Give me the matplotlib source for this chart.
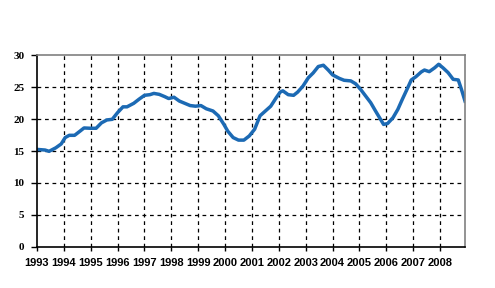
import matplotlib
matplotlib.use("Agg")
import matplotlib.pyplot as plt

# values (decimal year, value)
years = [1993.0, 1993.3, 1993.45, 1993.7, 1993.9, 1994.05, 1994.2, 1994.4, 1994.6, 1994.75,
         1995.0, 1995.2, 1995.4, 1995.6, 1995.8, 1996.0, 1996.2, 1996.35, 1996.6, 1996.8,
         1997.0, 1997.2, 1997.35, 1997.55, 1997.75, 1997.9, 1998.1, 1998.3, 1998.5, 1998.7,
         1998.9, 1999.1, 1999.3, 1999.55, 1999.75, 1999.95, 2000.1, 2000.3, 2000.5, 2000.7,
         2000.9, 2001.1, 2001.3, 2001.5, 2001.7, 2001.9, 2002.05, 2002.15, 2002.35, 2002.55,
         2002.7, 2002.9, 2003.1, 2003.28, 2003.47, 2003.66, 2003.84, 2004.0, 2004.25, 2004.43,
         2004.68, 2004.86, 2005.05, 2005.23, 2005.42, 2005.6, 2005.75, 2005.9, 2006.05, 2006.25,
         2006.43, 2006.6, 2006.8, 2006.93, 2007.1, 2007.3, 2007.42, 2007.6, 2007.8, 2007.95,
         2008.11, 2008.3, 2008.49, 2008.68, 2008.8, 2008.93]
values = [15.25, 15.15, 14.95, 15.5, 16.1, 17.1, 17.45, 17.45, 18.1, 18.6,
          18.55, 18.55, 19.4, 19.85, 19.95, 21.0, 21.9, 21.9, 22.45, 23.1,
          23.7, 23.8, 24.0, 23.85, 23.5, 23.2, 23.4, 22.8, 22.45, 22.1,
          22.0, 22.1, 21.6, 21.25, 20.5, 19.2, 18.1, 17.1, 16.7, 16.7,
          17.35, 18.4, 20.5, 21.25, 22.0, 23.3, 24.2, 24.4, 23.8, 23.7,
          24.2, 25.15, 26.45, 27.2, 28.2, 28.4, 27.65, 26.9, 26.35, 26.05,
          25.95, 25.5, 24.6, 23.6, 22.55, 21.25, 20.2, 19.15, 19.3, 20.2,
          21.5, 23.1, 24.9, 26.1, 26.6, 27.35, 27.65, 27.4, 28.0, 28.55,
          28.0, 27.25, 26.2, 26.1, 24.6, 22.8]
year_ticks = list(range(1993, 2009))
y_ticks = [0, 5, 10, 15, 20, 25, 30]

fig = plt.figure(figsize=(4.95, 2.88), dpi=100)
ax = fig.add_axes([37 / 495, 41 / 288, 428 / 495, 192 / 288])

ax.plot(years, values, color="#1c6ab4", linewidth=2.5, solid_joinstyle="round")

ax.set_xlim(1993, 2008.93)
ax.set_ylim(0, 30)
ax.set_xticks(year_ticks)
ax.set_xticklabels([str(y) for y in year_ticks], fontfamily="Liberation Sans",
                   fontweight="bold", fontsize=8)
ax.set_yticks(y_ticks)
ax.set_yticklabels([str(v) for v in y_ticks], fontfamily="Liberation Serif",
                   fontweight="bold", fontsize=8)
ax.tick_params(axis="x", direction="out", length=3, width=1, pad=5)
ax.tick_params(axis="y", direction="out", length=4, width=1, pad=5)

for y in year_ticks[1:]:
    ax.axvline(y, color="black", linewidth=0.9, linestyle=(0, (3, 3)), zorder=0)
for v in y_ticks[1:-1]:
    ax.axhline(v, color="black", linewidth=0.9, linestyle=(0, (3, 3)), zorder=0)

ax.spines["left"].set_color("black")
ax.spines["bottom"].set_color("black")
ax.spines["top"].set_color("#808080")
ax.spines["right"].set_color("#808080")
for s in ax.spines.values():
    s.set_linewidth(1.2)

fig.savefig("out.png", dpi=100)
